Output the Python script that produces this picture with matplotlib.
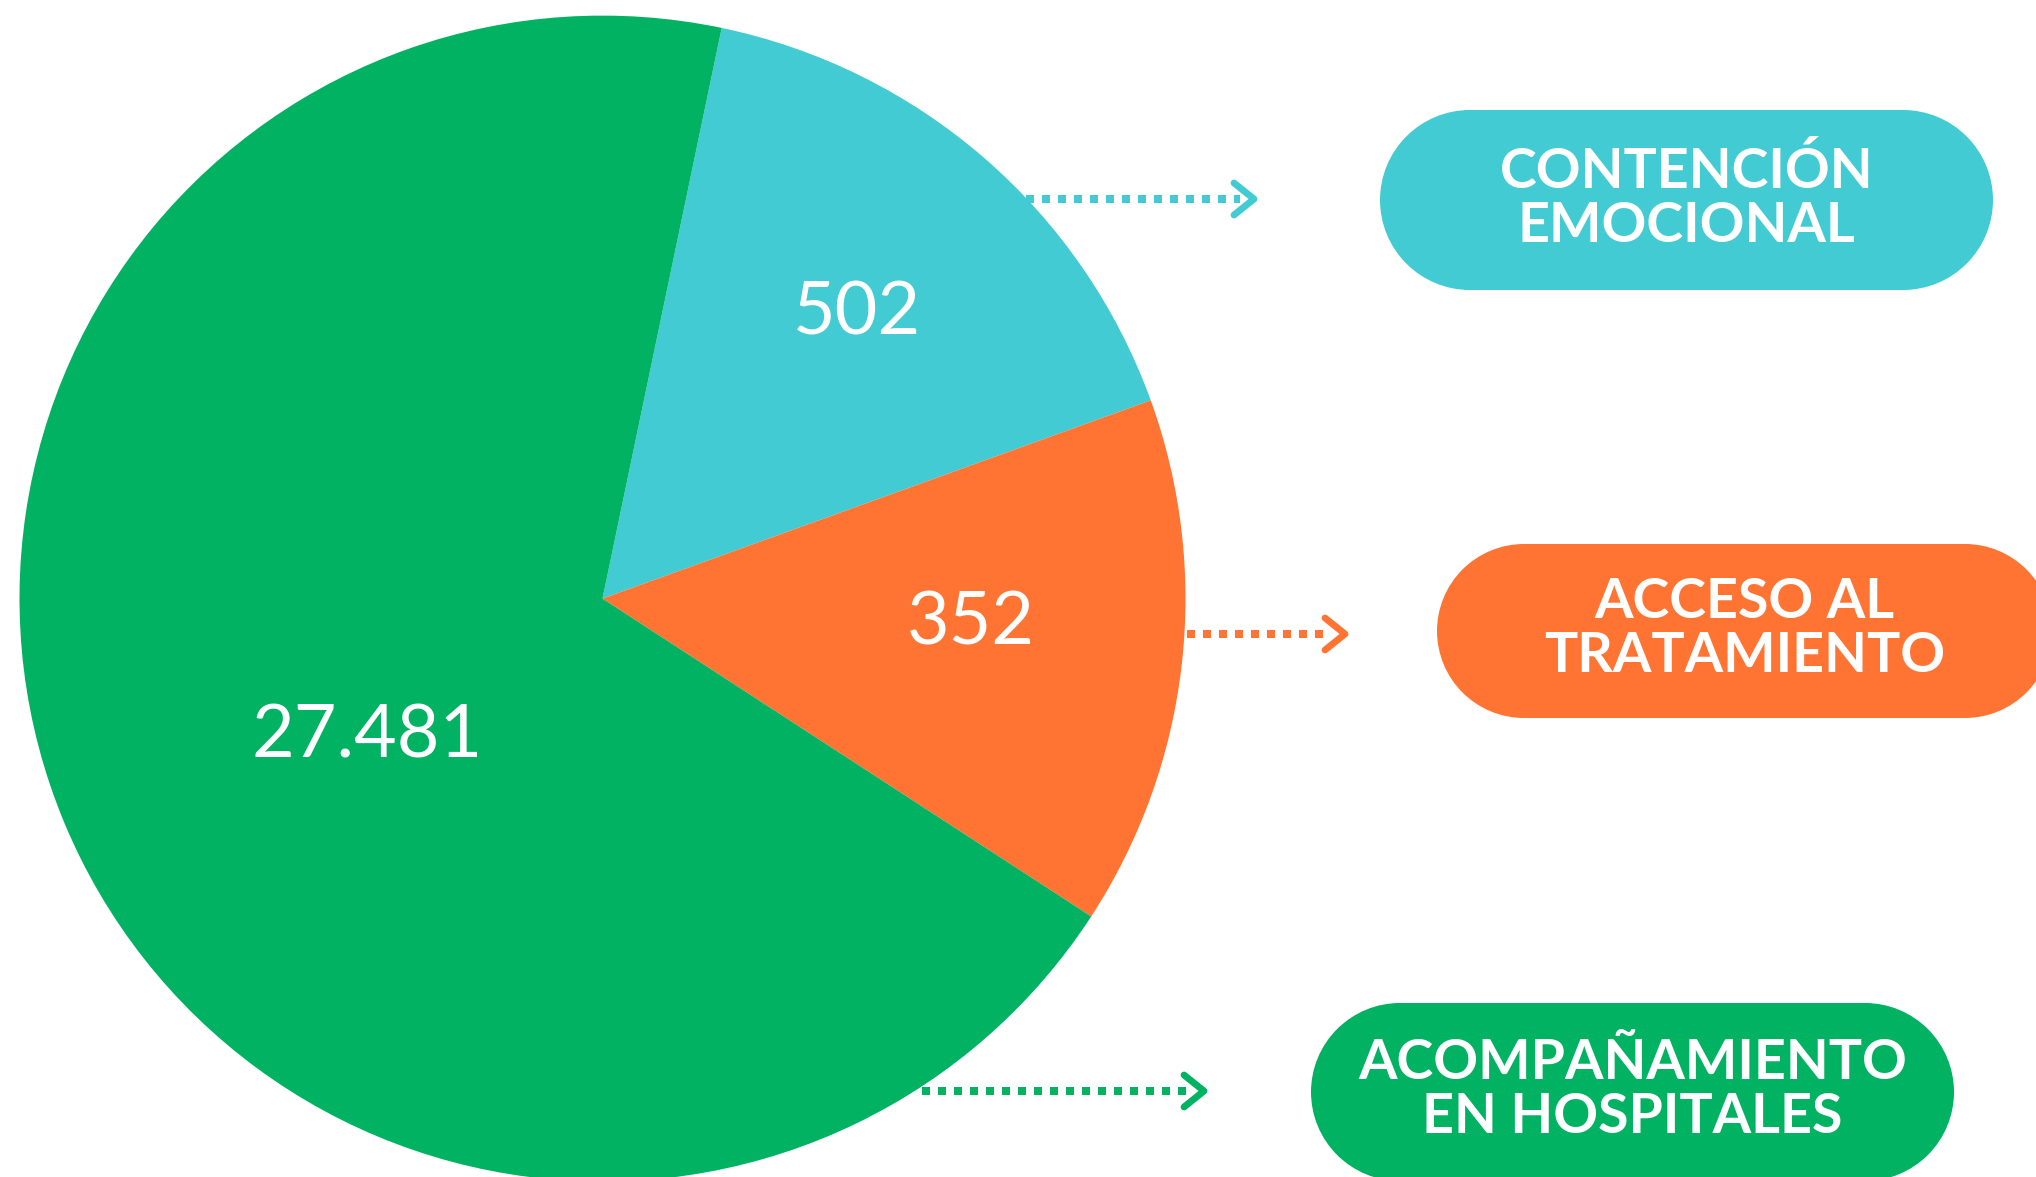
import numpy as np
import matplotlib
matplotlib.use("Agg")
import matplotlib.pyplot as plt
from matplotlib.patches import Rectangle, Circle

# data
categories = ["CONTENCIÓN\nEMOCIONAL", "ACCESO AL\nTRATAMIENTO", "ACOMPAÑAMIENTO\nEN HOSPITALES"]
values = [502, 352, 27481]
# the drawn slices are not proportional to the values, so keep the visible shares
slice_shares = [16.2, 14.7, 69.1]
colors = ["#42CBD3", "#FF7432", "#00B262"]

W, H = 2036, 1177
fig = plt.figure(figsize=(W / 100, H / 100), dpi=100)
ax = fig.add_axes([0, 0, 1, 1])

cx, cy, r = 602.5, H - 598.6, 583
ax.pie(slice_shares, colors=colors, startangle=78.2, counterclock=False,
       center=(cx, cy), radius=r, frame=True,
       wedgeprops=dict(linewidth=0))
ax.set_xlim(0, W)
ax.set_ylim(0, H)
ax.set_aspect("equal")
ax.axis("off")

# value labels (image coords)
label_pos = [(857, 314), (971, 624), (367, 737)]
for v, (x, y) in zip(values, label_pos):
    txt = f"{v:,}".replace(",", ".")
    ax.text(x, H - y, txt, color="white", fontsize=53, family="Lato",
            ha="center", va="center")

# pill boxes: left, top, right, bottom in image coords
pills = [(1380, 110, 1993, 290), (1437, 544, 2052, 718), (1311, 1003, 1954, 1181)]
for (l, t, rr, b), c, name in zip(pills, colors, categories):
    h = b - t
    rad = h / 2
    yc = H - (t + b) / 2
    ax.add_patch(Rectangle((l + rad, H - b), rr - l - 2 * rad, h,
                           facecolor=c, edgecolor="none"))
    ax.add_patch(Circle((l + rad, yc), rad, facecolor=c, edgecolor="none"))
    ax.add_patch(Circle((rr - rad, yc), rad, facecolor=c, edgecolor="none"))
    ax.text((l + rr) / 2, yc + 2, name, color="white",
            fontsize=40, family="Lato", fontweight="bold",
            ha="center", va="center", linespacing=1.12)

# dotted arrows: start x, end x (chevron tip), y in image coords
arrows = [(1026, 1254, 199), (1187, 1345, 634), (922, 1204, 1091)]
lw = 8 * 72 / 100
for (x0, x1, y), c in zip(arrows, colors):
    ax.plot([x0, x1 - 14], [H - y, H - y], color=c, lw=lw,
            linestyle=(0, (1, 1)), dash_capstyle="butt")
    ax.plot([x1 - 20, x1, x1 - 20], [H - y + 16, H - y, H - y - 16],
            color=c, lw=lw * 0.85, solid_capstyle="round",
            solid_joinstyle="round")

fig.savefig("out.png", dpi=100)
